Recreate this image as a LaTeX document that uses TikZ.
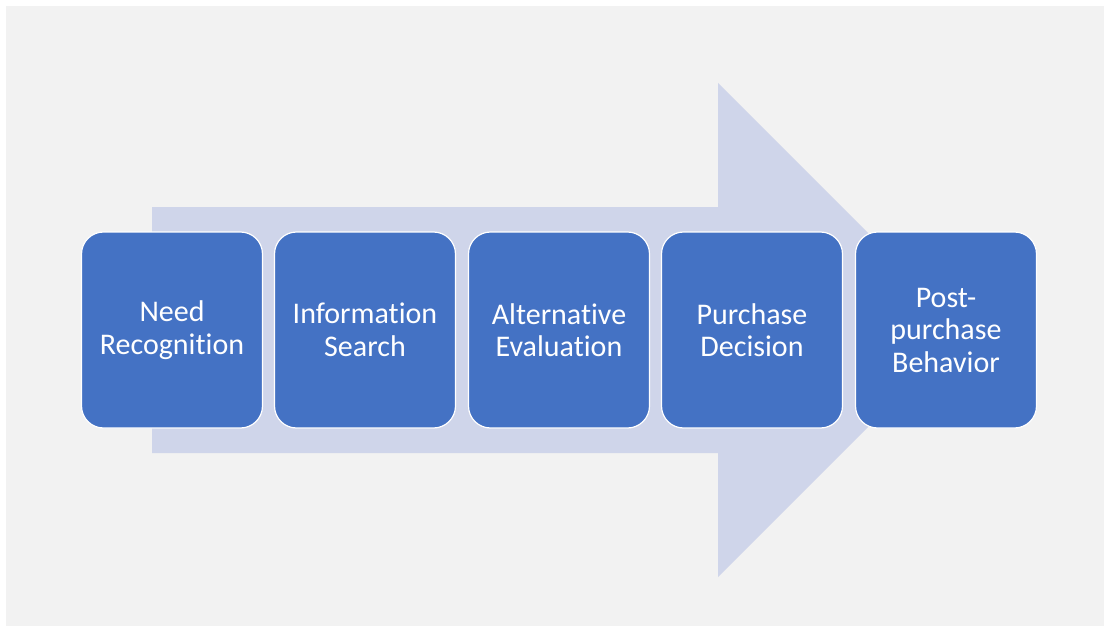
\documentclass[tikz,border=0pt]{standalone}
\usepackage{fontspec}
\setmainfont{Carlito}[Ligatures = NoCommon]
\usepackage{tkz-graph}
\usetikzlibrary{arrows}
\usetikzlibrary{shapes}

\definecolor{BackGray}{HTML}{F2F2F2}
\definecolor{ArrowBlue}{HTML}{CFD5EA}
\definecolor{StageBlue}{HTML}{4472C4}

\begin{document}
\begin{tikzpicture}[x = 1pt, y = -1pt]
\tikzstyle{VertexStyle}=[shape = rectangle, rounded corners = 22pt,
minimum width = 181pt, minimum height = 196pt, inner sep = 0pt,
draw = white, line width = 1.2pt, fill = StageBlue, text = white,
align = center, font = \fontsize{30}{32.5}\selectfont]
\useasboundingbox (0,0) rectangle (1104,626);
\fill[white] (0,0) rectangle (1104,626);
\fill[BackGray] (6,6) rectangle (1104,626);
% big arrow behind the stages
\fill[ArrowBlue] (152,207) -- (718,207) -- (718,83) -- (965,330)
-- (718,577) -- (718,453) -- (152,453) -- cycle;
\Vertex[x = 172, y = 330, L = {Need\\Recognition}]{s0}
\Vertex[x = 365, y = 330, L = {Information\\Search}]{s1}
\Vertex[x = 559, y = 330, L = {Alternative\\Evaluation}]{s2}
\Vertex[x = 752, y = 330, L = {Purchase\\Decision}]{s3}
\Vertex[x = 946, y = 330, L = {Post-\\purchase\\Behavior}]{s4}
\end{tikzpicture}
\end{document}
